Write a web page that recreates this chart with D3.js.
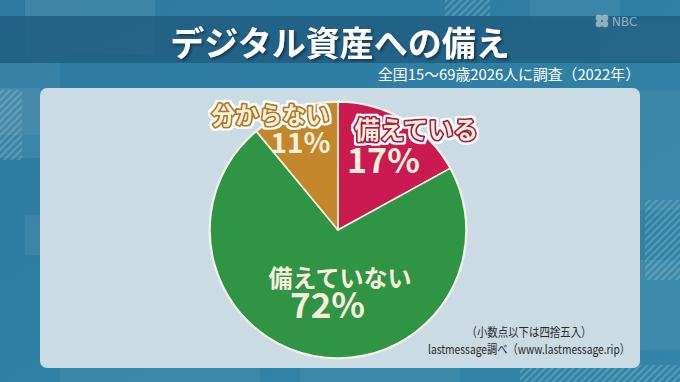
<!DOCTYPE html>
<html><head><meta charset="utf-8">
<script src="https://cdn.jsdelivr.net/npm/d3@7"></script>
<style>
html,body{margin:0;padding:0;background:#2e7ea1;}
svg{display:block;}
</style></head>
<body>
<svg id="c" width="680" height="382"></svg>
<script>
const categories = ["備えている", "備えていない", "分からない"];
const values = [17, 72, 11];
const valueLabels = ["17%", "72%", "11%"];
const title = "デジタル資産への備え";
const subtitle = "全国15～69歳2026人に調査（2022年）";
const notes = ["（小数点以下は四捨五入）", "lastmessage調べ（www.lastmessage.rip）"];

const colors = ["#cb1a51", "#2f9444", "#c4862a"];
const outlineColors = ["#b0123f", null, "#b47a1f"];
const FONT = "'Noto Sans CJK JP','Noto Sans',sans-serif";

const svg = d3.select("#c");
const W = 680, H = 382;

// background
const defs = svg.append("defs");
const bg = defs.append("linearGradient").attr("id","bg").attr("x1",0).attr("y1",0).attr("x2",1).attr("y2",1);
bg.append("stop").attr("offset","0%").attr("stop-color","#2d7aa0");
bg.append("stop").attr("offset","100%").attr("stop-color","#3185a8");
svg.append("rect").attr("width",W).attr("height",H).attr("fill","url(#bg)");
const pat = defs.append("pattern").attr("id","hatch").attr("width",5).attr("height",5)
  .attr("patternUnits","userSpaceOnUse").attr("patternTransform","rotate(45)");
pat.append("rect").attr("width",2).attr("height",5).attr("fill","rgba(255,255,255,0.18)");

// white halo filter
const halo = defs.append("filter").attr("id","halo").attr("x","-10%").attr("y","-30%").attr("width","120%").attr("height","160%");
halo.append("feMorphology").attr("in","SourceAlpha").attr("operator","dilate").attr("radius",1.6).attr("result","d");
halo.append("feFlood").attr("flood-color","#ffffff").attr("result","w");
halo.append("feComposite").attr("in","w").attr("in2","d").attr("operator","in").attr("result","wh");
const hm = halo.append("feMerge");
hm.append("feMergeNode").attr("in","wh");
hm.append("feMergeNode").attr("in","SourceGraphic");

// title drop shadow
const sh = defs.append("filter").attr("id","shadow").attr("x","-10%").attr("y","-30%").attr("width","120%").attr("height","160%");
sh.append("feDropShadow").attr("dx",2).attr("dy",2).attr("stdDeviation",1.2).attr("flood-color","#0b2c40").attr("flood-opacity",0.7);

const deco = [
  [25,0,130,55,0.08],[0,55,60,80,0.05],[0,88,40,70,0.07],[530,0,90,20,0.06],
  [600,20,80,40,0.08],[640,90,40,120,0.05],[640,260,40,90,0.06],[25,215,50,40,0.06],
  [60,360,200,22,0.06],[300,360,160,22,0.05]
];
svg.selectAll("rect.deco").data(deco).join("rect").attr("class","deco")
  .attr("x",d=>d[0]).attr("y",d=>d[1]).attr("width",d=>d[2]).attr("height",d=>d[3])
  .attr("fill",d=>`rgba(255,255,255,${d[4]})`);
svg.append("rect").attr("x",0).attr("y",90).attr("width",22).attr("height",70).attr("fill","url(#hatch)");
svg.append("rect").attr("x",445).attr("y",0).attr("width",45).attr("height",16).attr("fill","url(#hatch)");
svg.append("rect").attr("x",645).attr("y",200).attr("width",35).attr("height",80).attr("fill","url(#hatch)");
svg.append("rect").attr("x",520).attr("y",365).attr("width",160).attr("height",17).attr("fill","url(#hatch)");

// title band
svg.append("rect").attr("x",0).attr("y",16).attr("width",W).attr("height",47).attr("fill","#1f5a7c").attr("opacity",0.75);

// title
svg.append("text").attr("x",340).attr("y",56).attr("text-anchor","middle")
  .attr("font-family",FONT).attr("font-weight",700).attr("font-size",34)
  .attr("fill","#ffffff").attr("filter","url(#shadow)").text(title);

// subtitle
svg.append("text").attr("x",640).attr("y",80).attr("text-anchor","end")
  .attr("font-family",FONT).attr("font-weight",400).attr("font-size",15)
  .attr("textLength",262).attr("lengthAdjust","spacingAndGlyphs")
  .attr("fill","#ffffff").text(subtitle);

// NBC logo
const logo = svg.append("g").attr("transform","translate(602,21)").attr("opacity",0.55);
[[-3,-3],[3,-3],[-3,3],[3,3]].forEach(p=>{
  logo.append("circle").attr("cx",p[0]).attr("cy",p[1]).attr("r",3.3).attr("fill","#e8eef2");
});
logo.append("text").attr("x",10).attr("y",5).attr("font-family","'DejaVu Sans',sans-serif")
  .attr("font-size",12).attr("fill","#e8eef2").text("NBC");

// panel
svg.append("rect").attr("x",40).attr("y",88).attr("width",600).attr("height",280).attr("rx",7)
  .attr("fill","#d0dfe6").attr("opacity",0.96);

// pie
const cx = 338, cy = 230, R = 128;
const pie = d3.pie().sort(null).value(d=>d.v).startAngle(0).endAngle(2*Math.PI);
const arc = d3.arc().innerRadius(0).outerRadius(R);
const data = categories.map((c,i)=>({c, v:values[i], label:valueLabels[i], i}));
const arcs = pie(data);
const g = svg.append("g").attr("transform",`translate(${cx},${cy})`);
g.append("circle").attr("r",R+1.5).attr("fill","#f2f4e6");
g.selectAll("path").data(arcs).join("path")
  .attr("d",arc).attr("fill",d=>colors[d.data.i])
  .attr("stroke","#f2f2e4").attr("stroke-width",1.6).attr("stroke-linejoin","round");

// label layout (offsets from pie centre): [nameDx,nameDy,nameSize, valDx,valDy,valSize]
const labelLayout = [
  [78.5,-91,25, 45.5,-57,34],
  [2,57,24, -10.5,88,35],
  [-67.5,-106,23.5, -37.5,-77,28]
];
const cream = "#f7f1dc";
arcs.forEach(d=>{
  const i = d.data.i, L = labelLayout[i];
  const oc = outlineColors[i];
  const t = g.append("text").attr("x",L[0]).attr("y",L[1]).attr("text-anchor","middle")
    .attr("font-family",FONT).attr("font-weight",700).attr("font-size",L[2])
    .attr("fill",cream).text(d.data.c);
  if (oc) {
    t.attr("stroke",oc).attr("stroke-width",3.6).attr("stroke-linejoin","round")
     .attr("paint-order","stroke").attr("filter","url(#halo)");
  }
  g.append("text").attr("x",L[3]).attr("y",L[4]).attr("text-anchor","middle")
    .attr("font-family",FONT).attr("font-weight",600).attr("font-size",L[5])
    .attr("fill",cream).text(d.data.label);
});

// notes
const noteLen = [125, 202];
svg.selectAll("text.note").data(notes).join("text").attr("class","note")
  .attr("x",529).attr("y",(d,i)=>337+i*17).attr("text-anchor","middle")
  .attr("textLength",(d,i)=>noteLen[i]).attr("lengthAdjust","spacingAndGlyphs")
  .attr("font-family",FONT).attr("font-size",12.5).attr("fill","#2a2a2a").text(d=>d);
</script>
</body></html>
